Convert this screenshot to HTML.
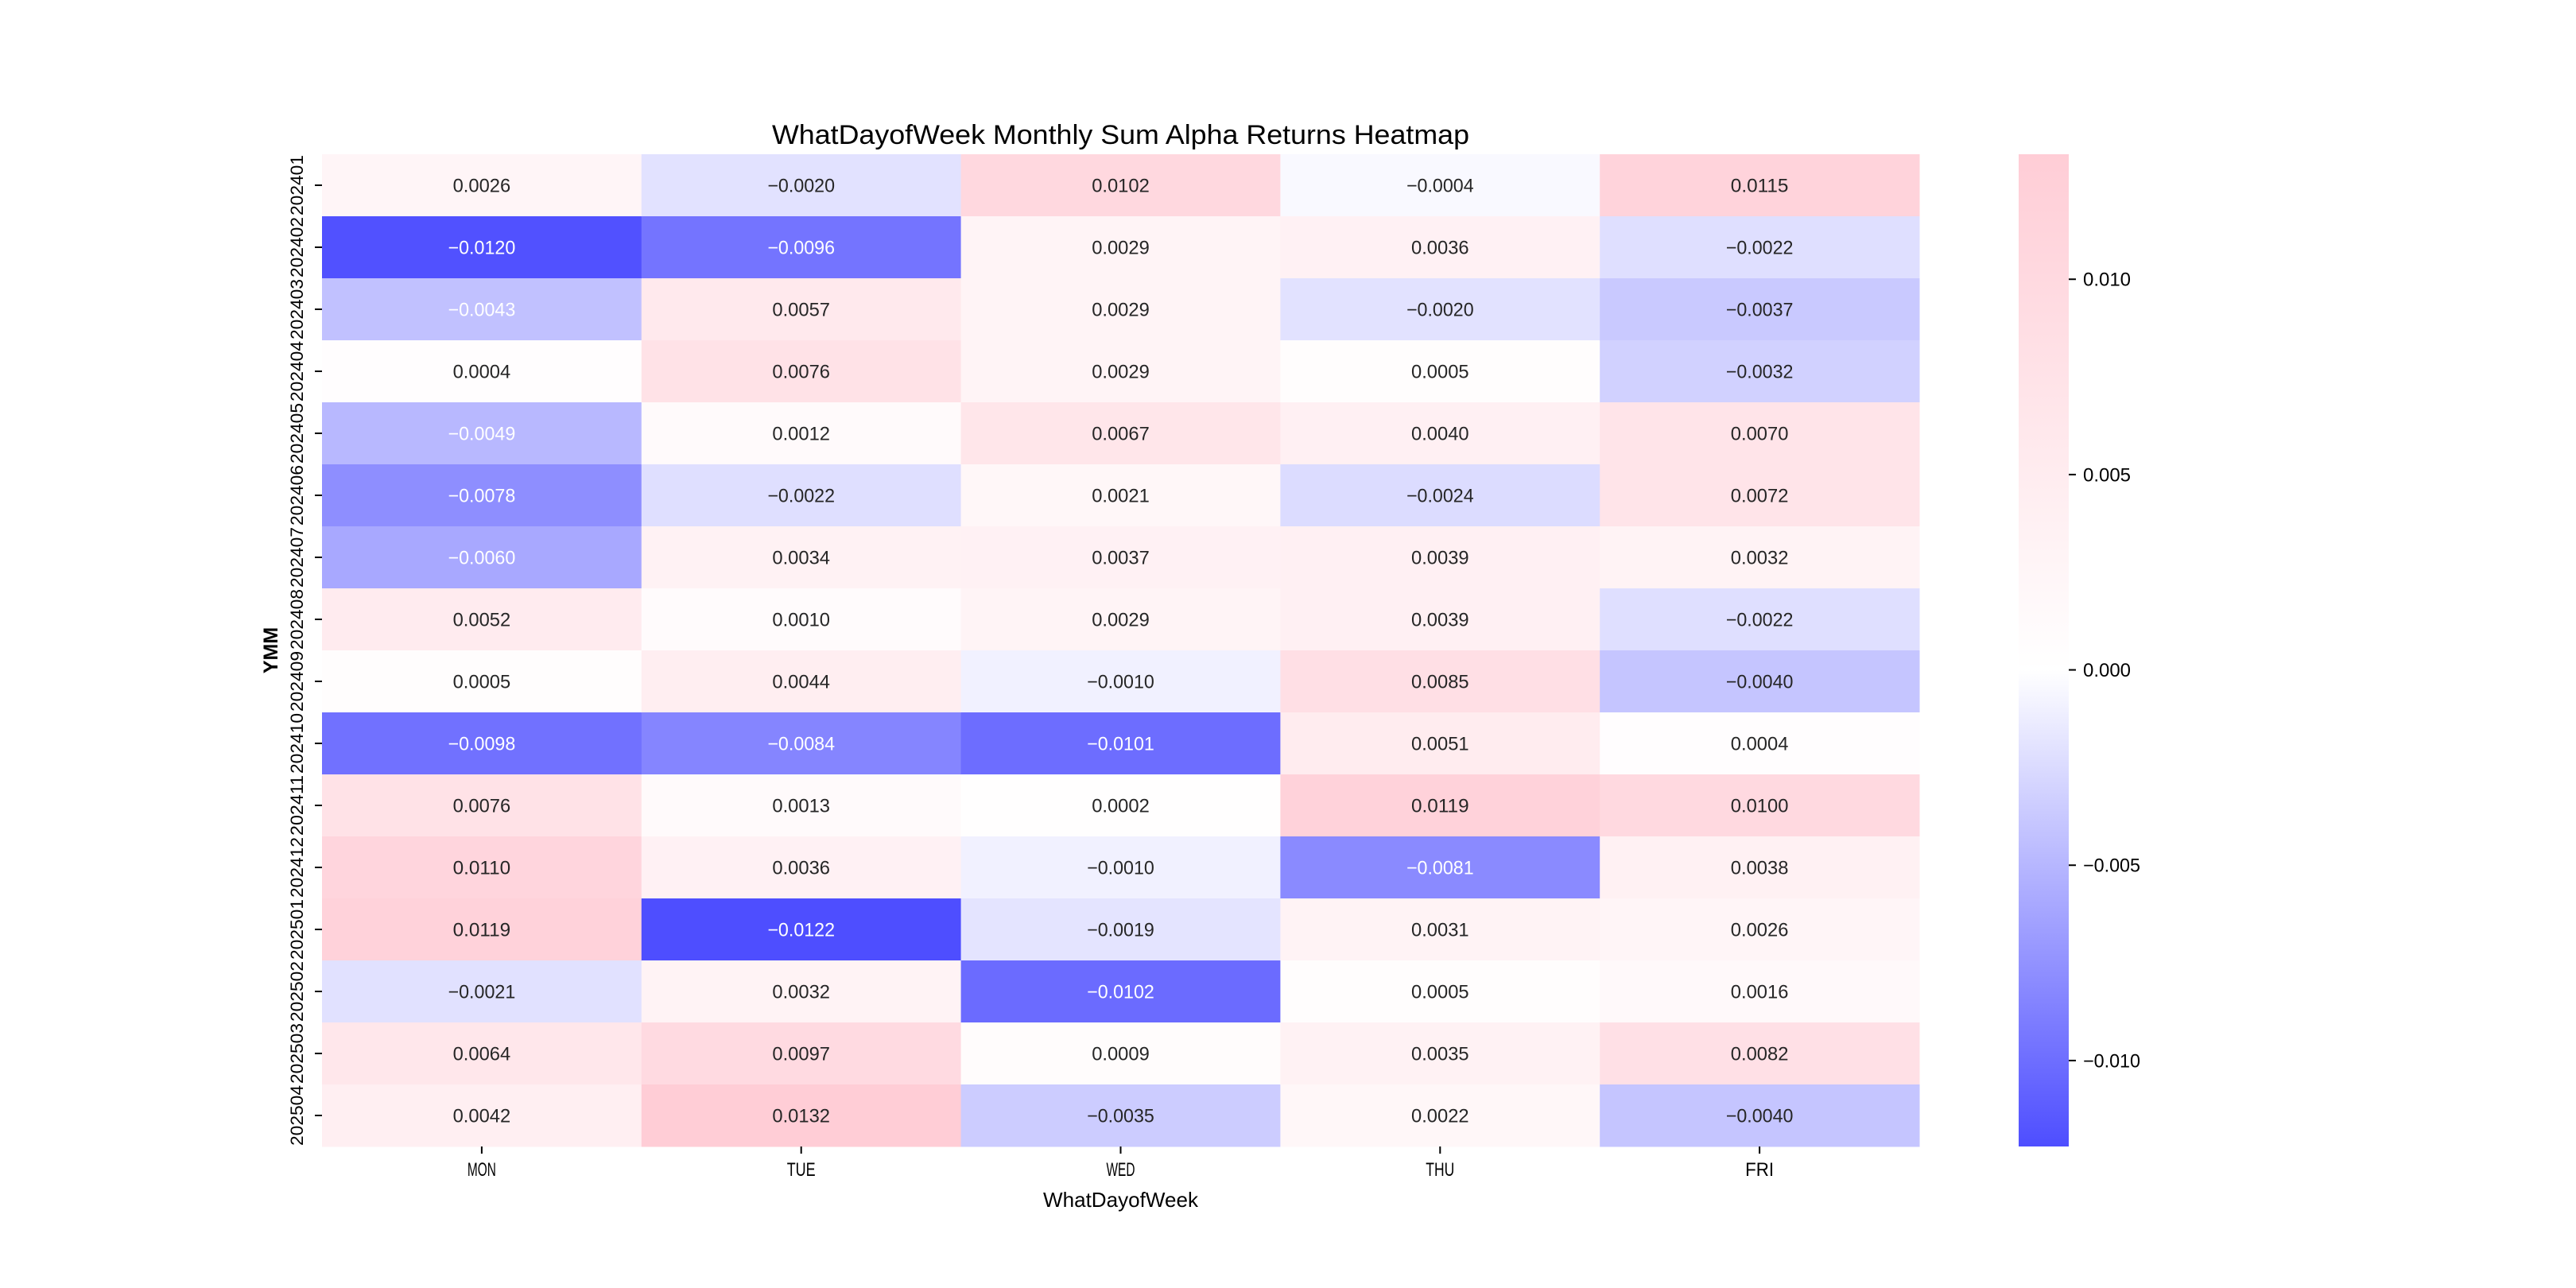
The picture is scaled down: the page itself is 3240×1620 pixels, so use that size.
<!DOCTYPE html>
<html><head><meta charset="utf-8">
<style>
html,body{margin:0;padding:0;background:#fff;}
svg{display:block;}
.t{font-family:"WenQuanYi Zen Hei","Liberation Sans",sans-serif;}
.a{font-family:"Liberation Sans","DejaVu Sans",sans-serif;}
</style></head>
<body>
<svg id="chart" width="3240" height="1620" viewBox="0 0 3240 1620" xmlns="http://www.w3.org/2000/svg">
<rect width="3240" height="1620" fill="#fff"/>
<text class="t" x="1409.5" y="181" text-anchor="middle" font-size="34" textLength="877" lengthAdjust="spacingAndGlyphs">WhatDayofWeek Monthly Sum Alpha Returns Heatmap</text>
<g id="cells"></g>
<g id="axes"></g>
<defs>
<linearGradient id="cbg" x1="0" y1="1" x2="0" y2="0">
<stop id="g0" offset="0"/><stop id="g1" offset="0.5"/><stop id="g2" offset="1"/>
</linearGradient>
</defs>
<rect id="cbar" x="2539" y="194" width="63" height="1248" fill="url(#cbg)"/>
<g id="cbticks"></g>
<text class="t" x="1409.5" y="1518" text-anchor="middle" font-size="26" textLength="195" lengthAdjust="spacingAndGlyphs">WhatDayofWeek</text>
<text class="a" transform="translate(349,818) rotate(-90)" text-anchor="middle" font-size="25" font-weight="bold">YMM</text>
</svg>
<script>
const days = ["MON","TUE","WED","THU","FRI"];
const months = ["202401","202402","202403","202404","202405","202406","202407","202408","202409","202410","202411","202412","202501","202502","202503","202504"];
const mon = [0.0026,-0.0120,-0.0043,0.0004,-0.0049,-0.0078,-0.0060,0.0052,0.0005,-0.0098,0.0076,0.0110,0.0119,-0.0021,0.0064,0.0042];
const tue = [-0.0020,-0.0096,0.0057,0.0076,0.0012,-0.0022,0.0034,0.0010,0.0044,-0.0084,0.0013,0.0036,-0.0122,0.0032,0.0097,0.0132];
const wed = [0.0102,0.0029,0.0029,0.0029,0.0067,0.0021,0.0037,0.0029,-0.0010,-0.0101,0.0002,-0.0010,-0.0019,-0.0102,0.0009,-0.0035];
const thu = [-0.0004,0.0036,-0.0020,0.0005,0.0040,-0.0024,0.0039,0.0039,0.0085,0.0051,0.0119,-0.0081,0.0031,0.0005,0.0035,0.0022];
const fri = [0.0115,-0.0022,-0.0037,-0.0032,0.0070,0.0072,0.0032,-0.0022,-0.0040,0.0004,0.0100,0.0038,0.0026,0.0016,0.0082,-0.0040];
const cbTicks = [-0.010,-0.005,0.000,0.005,0.010];
const cbTickLabels = ["\u22120.010","\u22120.005","0.000","0.005","0.010"];

const series = [mon,tue,wed,thu,fri];
const NS = "http://www.w3.org/2000/svg";
const X0 = 405, X1 = 2414, Y0 = 194, Y1 = 1442;
const colW = (X1 - X0) / days.length, rowH = (Y1 - Y0) / months.length;
const all = series.flat();
const vmin = Math.min(...all), vmax = Math.max(...all);
const vr = Math.max(Math.abs(vmin), Math.abs(vmax));
const BLUE = [64,64,255], WHITE = [255,255,255], PINK = [255,205,214];
function color(v){
  const t = Math.max(-1, Math.min(1, v / vr));
  const e = t < 0 ? BLUE : PINK, a = Math.abs(t);
  const c = WHITE.map((w,i)=>Math.round(w + (e[i]-w)*a));
  return `rgb(${c[0]},${c[1]},${c[2]})`;
}
const isDark = v => v / vr < -0.315;
const xPos = i => X0 + colW * (i + 0.5);
const yPos = j => Y0 + rowH * (j + 0.5);
const fmt = v => (v < 0 ? "\u2212" : "") + Math.abs(v).toFixed(4);
function mk(tag, attrs, parent){ const el = document.createElementNS(NS, tag); for (const k in attrs) el.setAttribute(k, attrs[k]); parent.appendChild(el); return el; }

const cells = document.getElementById("cells");
series.forEach((arr, i) => {
  arr.forEach((v, j) => {
    const r = mk("rect", {x: X0 + colW*i, y: Y0 + rowH*j, width: colW + 0.5, height: rowH + 0.5, fill: color(v)}, cells);
    
    
    const s = fmt(v);
    const tx = mk("text", {x: xPos(i), y: yPos(j) + 8.5, "text-anchor": "middle", "font-size": 24, "class": "t",
      fill: isDark(v) ? "#ffffff" : "#262626", textLength: s.length * 12.1, lengthAdjust: "spacingAndGlyphs"}, cells);
    tx.textContent = s;
    
    
  });
});

const axes = document.getElementById("axes");
days.forEach((d, i) => {
  const ln = mk("line", {x1: xPos(i), x2: xPos(i), y1: Y1, y2: Y1 + 9, stroke: "#000", "stroke-width": 2}, axes);
  
  
  const t = mk("text", {x: xPos(i), y: Y1 + 37, "text-anchor": "middle", "font-size": 24, "class": "t", textLength: d.length * 12, lengthAdjust: "spacingAndGlyphs"}, axes);
  t.textContent = d;
  
  
});
months.forEach((m, j) => {
  const ln = mk("line", {x1: X0 - 9, x2: X0, y1: yPos(j), y2: yPos(j), stroke: "#000", "stroke-width": 2}, axes);
  
  
  const t = mk("text", {transform: `translate(381,${yPos(j)}) rotate(-90)`, "text-anchor": "middle", "font-size": 22, "class": "a", textLength: 76, lengthAdjust: "spacingAndGlyphs"}, axes);
  t.textContent = m;
  
  
});

document.getElementById("g0").setAttribute("stop-color", color(vmin));
document.getElementById("g1").setAttribute("offset", (-vmin/(vmax-vmin)).toFixed(4));
document.getElementById("g1").setAttribute("stop-color", "#ffffff");
document.getElementById("g2").setAttribute("stop-color", color(vmax));
const cbt = document.getElementById("cbticks");
const cbY = v => Y1 - (v - vmin) / (vmax - vmin) * (Y1 - Y0);
cbTicks.forEach((v, k) => {
  const ln = mk("line", {x1: 2602, x2: 2611, y1: cbY(v), y2: cbY(v), stroke: "#000", "stroke-width": 2}, cbt);
  
  
  const s = cbTickLabels[k];
  const t = mk("text", {x: 2620, y: cbY(v) + 8.5, "font-size": 24, "class": "t", textLength: s.length * 12, lengthAdjust: "spacingAndGlyphs"}, cbt);
  t.textContent = s;
  
  
});
</script>
</body></html>
